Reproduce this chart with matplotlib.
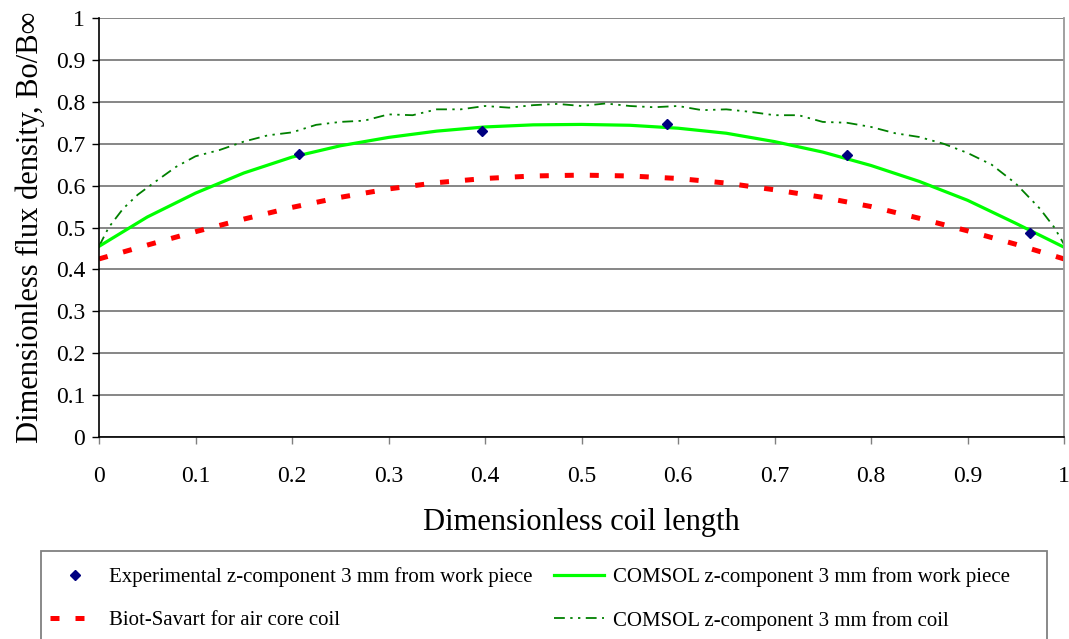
import matplotlib
matplotlib.use("Agg")
import matplotlib.pyplot as plt
from matplotlib.patches import Rectangle

plt.rcParams['font.family'] = ['Liberation Serif', 'DejaVu Serif']

# Experimental points
exp_x = [0.207, 0.397, 0.589, 0.775, 0.965]
exp_y = [0.675, 0.730, 0.747, 0.673, 0.487]

# COMSOL z-component 3 mm from work piece
wp_x = [0, 0.05, 0.1, 0.15, 0.2, 0.25, 0.3, 0.35, 0.4, 0.45, 0.5,
        0.55, 0.6, 0.65, 0.7, 0.75, 0.8, 0.85, 0.9, 0.95, 1.0]
wp_y = [0.455, 0.525, 0.582, 0.630, 0.668, 0.695, 0.715, 0.730, 0.740, 0.745, 0.746,
        0.744, 0.737, 0.725, 0.705, 0.680, 0.648, 0.610, 0.565, 0.510, 0.453]

# Biot-Savart for air core coil
bs_x = [0, 0.05, 0.1, 0.15, 0.2, 0.25, 0.3, 0.35, 0.4, 0.45, 0.5,
        0.55, 0.6, 0.65, 0.7, 0.75, 0.8, 0.85, 0.9, 0.95, 1.0]
bs_y = [0.425, 0.458, 0.490, 0.520, 0.548, 0.572, 0.592, 0.607, 0.617, 0.623, 0.625,
        0.623, 0.617, 0.606, 0.590, 0.572, 0.550, 0.522, 0.492, 0.460, 0.425]

# COMSOL z-component 3 mm from coil
coil_x = [0, 0.01, 0.025, 0.04, 0.06, 0.08, 0.1, 0.125, 0.15, 0.175, 0.2, 0.225, 0.25,
          0.275, 0.3, 0.325, 0.35, 0.375, 0.4, 0.425, 0.45, 0.475, 0.5, 0.525, 0.55,
          0.575, 0.6, 0.625, 0.65, 0.675, 0.7, 0.725, 0.75, 0.775, 0.8, 0.825, 0.85,
          0.875, 0.9, 0.925, 0.95, 0.975, 0.99, 1.0]
coil_y = [0.455, 0.500, 0.545, 0.578, 0.612, 0.645, 0.670, 0.685, 0.705, 0.720, 0.727,
          0.745, 0.752, 0.755, 0.770, 0.768, 0.782, 0.782, 0.790, 0.786, 0.792, 0.795,
          0.790, 0.796, 0.790, 0.787, 0.790, 0.780, 0.782, 0.776, 0.768, 0.768, 0.752,
          0.750, 0.740, 0.725, 0.716, 0.700, 0.678, 0.650, 0.605, 0.545, 0.500, 0.460]

fig = plt.figure(figsize=(10.69, 6.39), dpi=100)
ax = fig.add_axes([99/1069, 1 - 437/639, 965/1069, 419/639])

ax.set_axisbelow(True)
ax.yaxis.grid(True, color='#666666', lw=1.1)

h_coil, = ax.plot(coil_x, coil_y, color='#008000', lw=1.3,
                  linestyle=(0, (6, 3, 1.3, 3, 1.3, 3)),
                  label='COMSOL z-component 3 mm from coil')
h_bs, = ax.plot(bs_x, bs_y, color='#FF0000', lw=3.6, linestyle=(0, (1.8, 3.2)),
                dash_capstyle='butt', label='Biot-Savart for air core coil')
h_wp, = ax.plot(wp_x, wp_y, color='#00FF00', lw=2.3,
                label='COMSOL z-component 3 mm from work piece')
h_exp, = ax.plot(exp_x, exp_y, linestyle='none', marker='D', markersize=5.5,
                 color='#000080', label='Experimental z-component 3 mm from work piece')

ax.set_xlim(0, 1)
ax.set_ylim(0, 1)
ax.set_xticks([i / 10 for i in range(11)])
ax.set_yticks([i / 10 for i in range(11)])
ax.set_xticklabels(['0', '0.1', '0.2', '0.3', '0.4', '0.5', '0.6', '0.7', '0.8', '0.9', '1'])
ax.set_yticklabels(['0', '0.1', '0.2', '0.3', '0.4', '0.5', '0.6', '0.7', '0.8', '0.9', '1'])
ax.tick_params(axis='x', length=5, width=1, color='#808080', pad=16, labelsize=17)
ax.tick_params(axis='y', length=5, width=1, color='black', pad=5, labelsize=17)

ax.spines['top'].set_visible(False)
ax.spines['right'].set_color('#999999')
ax.spines['right'].set_linewidth(1.3)
ax.spines['left'].set_linewidth(1.2)
ax.spines['bottom'].set_linewidth(1.2)

ax.set_xlabel('Dimensionless coil length', fontsize=22, labelpad=15)
ax.set_ylabel('Dimensionless flux density, Bo/B\u221e', fontsize=22, labelpad=8)

# legend box (runs off the bottom of the figure)
fig.add_artist(Rectangle((41/1069, -0.2), (1047-41)/1069, 0.2 + 1 - 551/639,
                         transform=fig.transFigure, fill=False,
                         edgecolor='#808080', lw=1.3))
fig.legend(handles=[h_exp, h_bs, h_wp, h_coil], ncol=2, frameon=False,
           loc='upper left', bbox_to_anchor=(50/1069, 1 - 567/639),
           borderaxespad=0, borderpad=0, fontsize=15, handlelength=2.4,
           handletextpad=0.45, labelspacing=1.15, columnspacing=1.0)

fig.savefig('out.png', dpi=100)
